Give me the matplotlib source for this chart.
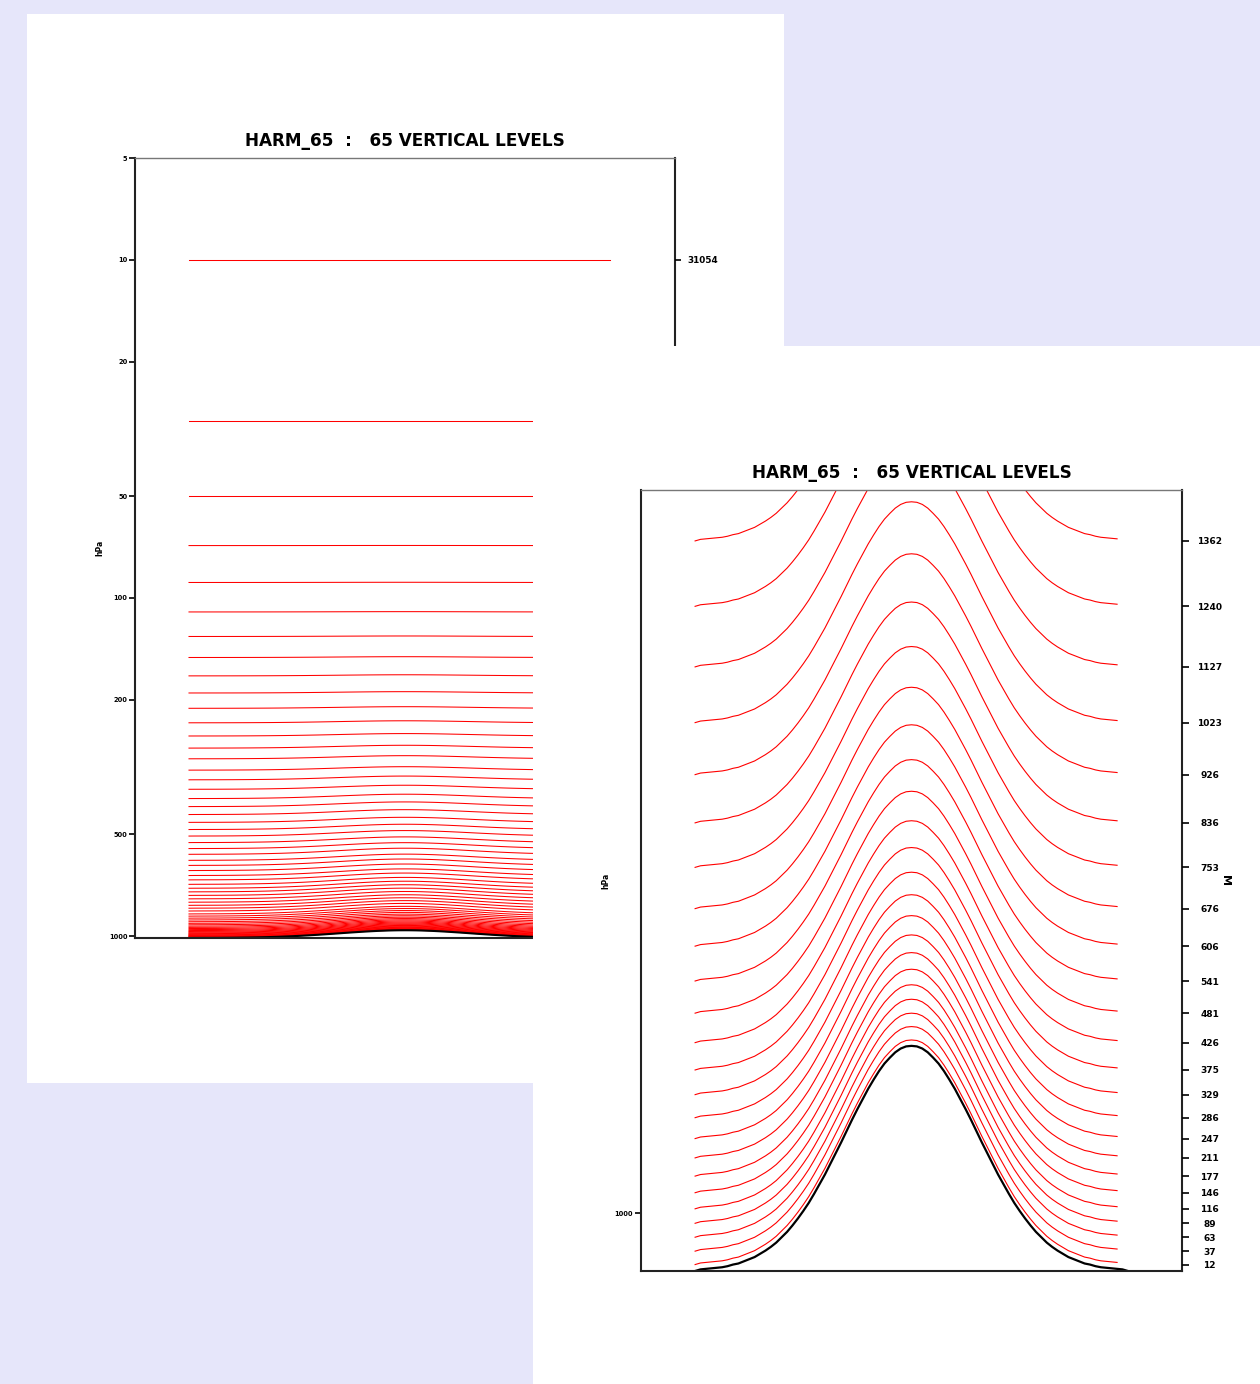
import numpy as np
import matplotlib
matplotlib.use("Agg")
import matplotlib.pyplot as plt
from matplotlib.patches import Rectangle
from matplotlib.ticker import NullLocator

# x grid across the cross-section (axes fraction), ridge in the middle
x_pts = np.linspace(0.10, 0.90, 81)
# surface height along the section (m)
terrain_half = [0, 3, 4, 5, 6, 7, 9, 12, 14, 18, 22, 26, 32, 38, 45, 53, 63, 73, 85, 98, 112,
                127, 144, 162, 180, 200, 220, 240, 261, 282, 302, 321, 340, 357, 373, 387, 398, 408,
                415, 419]
terrain_m = terrain_half + [420] + terrain_half[::-1]

# --- left plot: 65 levels in pressure (hPa) away from the ridge, and drop over the crest
p_edge = [10, 30, 50, 70, 90, 110, 130, 150, 170, 191, 212, 234, 256, 278, 299, 323, 345, 368, 392, 414,
          437, 461, 484, 506, 529, 551, 573, 597, 618, 640, 662, 682, 703, 722, 740, 758, 776, 794, 811, 827,
          843, 860.0, 872.9, 885.0, 896.2, 906.9, 916.8, 926.0, 934.6, 942.5, 949.9, 956.8, 963.1, 969.0,
          974.4, 979.4, 983.9, 988.2, 992.2, 995.8, 999.4, 1002.6, 1005.7, 1008.8, 1011.8]
p_drop = [0, 0, 0, 0.05, 0.12, 0.22, 0.44, 0.81, 1.27, 1.69, 2.30, 3.18, 4.17, 5.29, 6.29, 7.46, 8.67, 10.0,
          11.45, 12.93, 14.24, 15.65, 17.09, 18.56, 20.12, 21.71, 23.35, 24.73, 26.44, 27.82, 29.22, 31.03,
          32.46, 33.83, 35.17, 36.55, 37.95, 39.36, 40.75, 41.6, 42.5, 43.4, 44.1, 44.7, 45.3, 45.8, 46.3,
          46.8, 47.2, 47.6, 48.0, 48.3, 48.6, 48.9, 49.2, 49.5, 49.7, 49.9, 50.1, 50.3, 50.5, 50.6, 50.8,
          50.9, 51.1]
ps_edge = 1013.0
ps_drop = 52.0
p_ticks = [5, 10, 20, 50, 100, 200, 500, 1000]
top_level_p = [10]
top_level_lbl = ["31054"]

# --- right plot: lowest levels as height (m) away from the ridge, and rise over the crest
z_edge = [12, 37, 63, 89, 116, 146, 177, 211, 247, 286, 329, 375, 426, 481, 541, 606, 676, 753, 836, 926,
          1023, 1127, 1240, 1362]
z_rise = [419, 419, 418, 418, 418, 417, 417, 416, 416, 416, 415, 415, 414, 414, 413, 413, 413, 412, 412,
          412, 412, 411, 410, 409]
z_top = 1457
z_1000hPa = 108

title = "HARM_65  :   65 VERTICAL LEVELS"
bg = "#e6e6fa"

terrain = np.array(terrain_m, dtype=float)
shape = terrain / terrain.max()
x_red = x_pts[:-2]
s_red = shape[:-2]


def frame(ax):
    for side in ("left", "right", "bottom"):
        ax.spines[side].set_linewidth(1.5)
        ax.spines[side].set_color("#222222")
    ax.spines["top"].set_linewidth(1.0)
    ax.spines["top"].set_color("#777777")


def bold(labels):
    for t in labels:
        t.set_fontweight("bold")


fig = plt.figure(figsize=(12.6, 13.84), dpi=100, facecolor=bg)
fig.add_artist(Rectangle((27 / 1260, 1 - 1083 / 1384), 757 / 1260, 1069 / 1384,
                         transform=fig.transFigure, facecolor="white", edgecolor="none", zorder=1))
fig.add_artist(Rectangle((533 / 1260, 0), 727 / 1260, 1038 / 1384,
                         transform=fig.transFigure, facecolor="white", edgecolor="none", zorder=3))

# ---------------- left panel
ax1 = fig.add_axes([135 / 1260, 1 - 938 / 1384, 540 / 1260, 780 / 1384], zorder=2)
ax1.set_yscale("log")
for p, d in zip(p_edge, p_drop):
    ax1.plot(x_red, np.array(p) - d * s_red, color="red", lw=0.75)
ax1.plot(x_pts, ps_edge - ps_drop * shape, color="black", lw=1.5)
ax1.set_xlim(0, 1)
ax1.set_ylim(ps_edge, 5)
ax1.set_xticks([])
ax1.set_yticks(p_ticks)
ax1.set_yticklabels([str(v) for v in p_ticks])
ax1.yaxis.set_minor_locator(NullLocator())
ax1.tick_params(axis="y", direction="out", length=4, width=1.2, pad=1.5, labelsize=4.8)
bold(ax1.get_yticklabels())
ax1.set_ylabel("hPa", fontsize=5.5, fontweight="bold", va="center")
ax1.yaxis.set_label_coords(-35 / 540, 0.5)
ax1.set_title(title, fontsize=12.2, fontweight="bold", pad=8.5)
frame(ax1)

ax1r = ax1.twinx()
ax1r.set_zorder(2)
ax1r.set_yscale("log")
ax1r.set_ylim(ps_edge, 5)
ax1r.set_yticks(top_level_p)
ax1r.set_yticklabels(top_level_lbl)
ax1r.yaxis.set_minor_locator(NullLocator())
ax1r.tick_params(axis="y", direction="out", length=4, width=1.2, pad=5, labelsize=6.4)
bold(ax1r.get_yticklabels())
for s in ax1r.spines.values():
    s.set_visible(False)

# ---------------- right panel
ax2 = fig.add_axes([641 / 1260, 1 - 1271 / 1384, 541 / 1260, 781 / 1384], zorder=4)
for z, r in zip(z_edge, z_rise):
    ax2.plot(x_red, z + r * s_red, color="red", lw=0.8)
ax2.plot(x_pts, terrain, color="black", lw=1.6)
ax2.set_xlim(0, 1)
ax2.set_ylim(0, z_top)
ax2.set_xticks([])
ax2.set_yticks([z_1000hPa])
ax2.set_yticklabels(["1000"])
ax2.tick_params(axis="y", direction="out", length=4.5, width=1.2, pad=1.5, labelsize=4.8)
bold(ax2.get_yticklabels())
ax2.set_ylabel("hPa", fontsize=5.5, fontweight="bold", va="center")
ax2.yaxis.set_label_coords(-35 / 541, 0.5)
ax2.set_title(title, fontsize=12.2, fontweight="bold", pad=8.5)
frame(ax2)

ax2r = ax2.twinx()
ax2r.set_zorder(4)
ax2r.set_ylim(0, z_top)
ax2r.set_yticks(z_edge)
ax2r.set_yticklabels([str(v) for v in z_edge])
ax2r.tick_params(axis="y", direction="out", length=5, width=1.2, pad=15, labelsize=6.5)
for t in ax2r.get_yticklabels():
    t.set_fontweight("bold")
    t.set_horizontalalignment("center")
ax2r.set_ylabel("M", fontsize=8, fontweight="bold", rotation=270, va="center", ha="center")
ax2r.yaxis.set_label_coords(584 / 541, 0.5)
for s in ax2r.spines.values():
    s.set_visible(False)

fig.savefig("out.png", dpi=100, facecolor=bg)
